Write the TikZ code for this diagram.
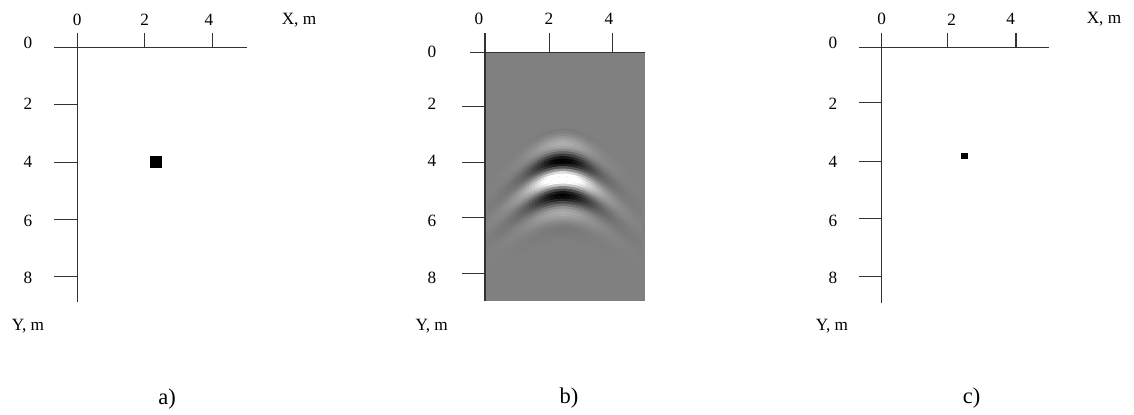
\documentclass[tikz,border=0pt]{standalone}
\usepackage{fontspec}
\setmainfont{Liberation Serif}
\usetikzlibrary{positioning}
\definecolor{radargray}{RGB}{128,128,128}
\definecolor{axisgray}{RGB}{50,50,50}

\begin{document}
\begin{tikzpicture}[x=0.02cm, y=-0.02cm,
  axis/.style={draw=axisgray, line width=0.022cm},
  ticklbl/.style={font=\fontsize{9.8}{11}\selectfont, inner sep=0pt},
  panellbl/.style={font=\fontsize{12.8}{14}\selectfont, inner sep=0pt},
  target/.style={fill=black, draw=none}]
\useasboundingbox (0,0) rectangle (1134,414);

% a) model
\draw[axis] (54,47.3) -- (246.7,47.3);
\draw[axis] (77.3,33) -- (77.3,301.7);
\foreach \x in {144.8,212.3} \draw[axis] (\x,33) -- (\x,47.3);
\foreach \y in {104.7,162.1,219.5,276.9} \draw[axis] (54,\y) -- (77.3,\y);
\foreach \x/\t in {77.3/0,144.8/2,209/4} \node[ticklbl] (ax-\t) at (\x,20) {\t};
\foreach \y/\t in {43/0,104/2,162/4,221/6,278/8} \node[ticklbl] (ay-\t) at (28,\y) {\t};
\node[ticklbl] (axlab) at (299,20) {X, m};
\node[ticklbl] (aylab) at (28,325.7) {Y, m};
\fill[target] (150,155.7) rectangle (162,167.7);
\node[panellbl] (capa) at (167,399) {a)};

% b) radargram
\fill[radargray] (485,52.7) rectangle (645.3,301);
\begin{scope}
\clip (485,52.7) rectangle (645.3,301);
\foreach \i in {-12,...,34} {
  \foreach \d in {-78,-75,...,75} {
    \pgfmathsetmacro{\s}{2.5*\i}
    \pgfmathsetmacro{\ya}{90+\s+sqrt(4900+(1.25*\d)^2)}
    \pgfmathsetmacro{\yb}{90+\s+sqrt(4900+(1.25*(\d+3))^2)}
    \pgfmathsetmacro{\side}{0.8*exp(0-((\d+1.5)/28)^2)+0.2*exp(0-((\d+1.5)/50)^2)}
    \pgfmathsetmacro{\amp}{1.45*cos(9.7297*\s)*exp(0-((\s-18)/30)^2)*\side}
    \pgfmathsetmacro{\pct}{min(100,abs(\amp)*100)}
    \ifdim\amp pt>0pt \colorlet{wave}{black!\pct!radargray}\else\colorlet{wave}{white!\pct!radargray}\fi
    \draw[wave, line width=0.055cm, line cap=round] (563+\d,\ya) -- (566+\d,\yb);
  }
}
\end{scope}
\draw[axis] (470,52.7) -- (645.3,52.7);
\draw[axis] (485,33) -- (485,301);
\foreach \x in {549.7,612.3} \draw[axis] (\x,33) -- (\x,52.7);
\foreach \y in {106.7,162.3,217.3,273.3} \draw[axis] (462,\y) -- (485,\y);
\foreach \x/\t in {479/0,549/2,609/4} \node[ticklbl] (bx-\t) at (\x,19) {\t};
\foreach \y/\t in {52/0,104/2,160.7/4,220.7/6,277.7/8} \node[ticklbl] (by-\t) at (432,\y) {\t};
\node[ticklbl] (bylab) at (431.7,325.7) {Y, m};
\node[panellbl] (capb) at (569,398) {b)};

% c) reconstruction
\draw[axis] (859.3,47.3) -- (1049.3,47.3);
\draw[axis] (881.3,33) -- (881.3,302.7);
\foreach \x in {947.7,1016} \draw[axis] (\x,33) -- (\x,47.3);
\foreach \y in {102.7,161.7,218.3,276.3} \draw[axis] (859.3,\y) -- (881.3,\y);
\foreach \x/\t in {881.7/0,951.7/2,1010.7/4} \node[ticklbl] (cx-\t) at (\x,19.3) {\t};
\foreach \y/\t in {43/0,104/2,161.7/4,221/6,278/8} \node[ticklbl] (cy-\t) at (833,\y) {\t};
\node[ticklbl] (cxlab) at (1104,19) {X, m};
\node[ticklbl] (cylab) at (832,325.7) {Y, m};
\fill[target] (961,153.3) rectangle (968,159.3);
\node[panellbl] (capc) at (971.7,398) {c)};
\end{tikzpicture}
\end{document}
